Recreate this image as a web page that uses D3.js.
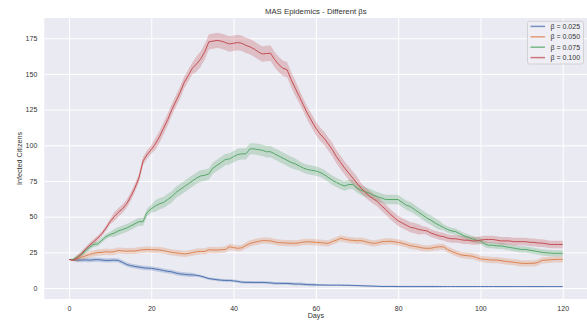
<!DOCTYPE html>
<html>
<head>
<meta charset="utf-8">
<script src="https://cdn.jsdelivr.net/npm/d3@7"></script>
<style>
  html, body { margin: 0; padding: 0; background: #ffffff; }
  svg { display: block; font-family: "Liberation Sans", Arial, sans-serif; }
</style>
</head>
<body>
<svg id="chart" width="587" height="320"></svg>
<script>
// Mean number of infected citizens per day for each infection rate β,
// with the half-width of the confidence band around each mean.
const days = d3.range(0, 121);
const betaLabels = ["β = 0.025", "β = 0.050", "β = 0.075", "β = 0.100"];
const xTicks = [0, 20, 40, 60, 80, 100, 120];
const yTicks = [0, 25, 50, 75, 100, 125, 150, 175];

const infected025 = [
  20,19.7,19.6,19.6,19.7,19.5,19.8,19.9,19.6,19.3,
  19.4,19.5,19.3,18,16.5,15.7,15.1,14.7,14.2,13.9,
  13.8,13.3,12.8,12.2,11.7,11.3,10.5,9.9,9.6,9.3,
  9.2,8.9,8.3,7.5,6.6,6.2,5.8,5.5,5.3,5.3,
  5,4.6,4.1,4,4,3.9,3.9,3.9,3.8,3.6,
  3.3,3.3,3.2,3.2,3,2.8,2.8,2.6,2.4,2.3,
  2.2,2.1,2.1,2,2,2,2,1.9,1.9,1.8,
  1.7,1.6,1.5,1.4,1.3,1.2,1.1,1.1,1.1,1.1,
  1,1,1,1,1,1,1,1,1,1,
  1,1,1,1,1,1,1,1,1,1,
  1,1,1,1,1,1,1,1,1,1,
  1,1,1,1,1,1,1,1,1,1,1
];
const infected050 = [
  20,19.5,20.5,21.5,22.5,23.5,24.3,24.8,25,25.4,
  25.2,25.4,26.3,26,25.8,26,25.9,26.5,26.8,27,
  26.8,26.8,26.6,26.2,25.5,25,24.6,24.3,23.9,24.2,
  24.8,25.4,25.6,25.6,26.8,26.6,26.6,26.8,27,28.9,
  28.3,27.8,28.2,29.8,31.2,32,32.6,33.2,33.2,33,
  32.3,31.8,31.7,31.5,31.4,31.3,31.7,32.2,32.4,32.3,
  32,31.8,31.5,31.3,32.5,33.5,34.8,34.2,33.6,33.4,
  33.1,33.2,32.6,31.8,31.3,31.6,32.4,32.6,32.8,32.4,
  32,31.3,30.5,29.6,29.2,28.6,28,27.8,27.9,28.5,
  28.9,28.9,27,25.6,24.5,23.4,22.9,22.6,22.3,21.4,
  20.4,20.1,19.8,19.6,19.6,19.2,18.7,18.4,18.1,17.7,
  17.3,17.2,17.3,17.3,18,19.4,19.6,19.8,20,20.1,20.1
];
const infected075 = [
  20,20,21.5,23.5,26,28.5,30.5,31,33.5,36,
  37.5,38.5,40,41,42,43.5,45,46.5,46.5,53,
  55.5,57.5,59,60,62,64,67,69,71,73,
  75,77,78.5,79,80,84,86,88,90,90.5,
  92,93.5,94,94,97.5,97.5,97,96.5,95.5,95.5,
  94,92.5,91,89.5,88,87,85.5,84,83,82.5,
  82,81,79.5,77.5,75.5,74,72.5,71.5,72.5,72.5,
  70,68.5,67.5,66.5,65,64,63,62,62,62,
  62,60,58,57,55,53,51,49,47.5,45.5,
  44,42.5,41,40,39.5,38,36.5,35.5,34.5,33.5,
  33,31,30,30,29.5,29.5,29,28.5,28,27.5,
  27,27,26.5,26,25.5,25,24.7,24.5,24.3,24.3,24.3
];
const infected100 = [
  20,19.5,21,24,27,30,32.5,35,38,42,
  46.5,50,53,55.5,59,64,70,77,89,93.5,
  97,101,106,112,118,125,131,137,144,149,
  154,157,160.5,165.5,172.5,173,173.5,173,172,171,
  171.5,172,171.5,170,169,167.5,165.5,164,164.3,164.5,
  160,156.5,154,153,146,140,134,128,122,117,
  112,108,105,101,97,92,88,84,80.5,77,
  73.5,70,67,64.5,62.5,60.5,57.5,55,52,49.5,
  47,45.5,44,42.5,42,41,40.5,40,38.5,37.5,
  36.5,36,35,34.5,34.5,34,33.5,33.5,33,33,
  33.5,34,34,34,33.5,33,33,33,32.5,32.5,
  32.5,32.5,32,32,31.5,31.5,31,30.5,30.5,30.5,30.5
];

const band025 = [
  0,0.6,1.5,1.5,1.5,1.5,1.5,1.5,1.5,1.5,
  1.5,1.5,1.5,1.5,1.5,1.5,1.5,1.5,1.5,1.5,
  1.5,1.5,1.5,1.5,1.5,1.5,1.5,1.5,1.5,1.5,
  1.5,1,1,1,1,1,1,1,1,1,
  1,1,1,1,1,1,1,1,1,1,
  1,1,1,1,1,1,1,1,1,1,
  1,0.5,0.5,0.5,0.5,0.5,0.5,0.5,0.5,0.5,
  0.5,0.5,0.5,0.5,0.5,0.5,0.5,0.5,0.5,0.5,
  0.5,0.5,0.5,0.5,0.5,0.5,0.5,0.5,0.5,0.5,
  0.5,0.3,0.3,0.3,0.3,0.3,0.3,0.3,0.3,0.3,
  0.3,0.3,0.3,0.3,0.3,0.3,0.3,0.3,0.3,0.3,
  0.3,0.3,0.3,0.3,0.3,0.3,0.3,0.3,0.3,0.3,0.3
];
const band050 = [
  0,0.8,2.2,2.2,2.2,2.2,2.2,2.2,2.2,2.2,
  2.2,2.2,2.2,2.2,2.2,2.2,2.2,2.2,2.2,2.2,
  2.2,2.2,2.2,2.2,2.2,2.2,2.2,2.2,2.2,2.2,
  2.2,2.2,2.2,2.2,2.2,2.2,2.2,2.2,2.2,2.2,
  2.2,2.2,2.2,2.2,2.2,2.2,2.2,2.2,2.2,2.2,
  2.2,2.2,2.2,2.2,2.2,2.2,2.2,2.2,2.2,2.2,
  2.2,2.2,2.2,2.2,2.2,2.2,2.2,2.2,2.2,2.2,
  2.2,2.2,2.2,2.2,2.2,2.2,2.2,2.2,2.2,2.2,
  2.2,2.2,2.2,2.2,2.2,2.2,2.2,2.2,2.2,2.2,
  2.2,2.2,2.2,2.2,2.2,2.2,2.2,2.2,2.2,2.2,
  2.2,2.2,2.2,2.2,2.2,2.2,2.2,2.2,2.2,2.2,
  2.2,2.2,2.2,2.2,2.2,2.2,2.2,2.2,2.2,2.2,2.2
];
const band075 = [
  0,0.8,1.8,1.8,1.8,1.8,1.8,1.8,1.8,1.8,
  1.8,2.8,2.8,2.8,2.8,2.8,2.8,2.8,2.8,2.8,
  2.8,4,4,4,4,4,4,4,4,4,
  4,4,4,4,4,4,4,4,4,4,
  4,4,4,4,4,4,4,4,4,4,
  4,4,4,4,4,4,3.3,3.3,3.3,3.3,
  3.3,3.3,3.3,3.3,3.3,3.3,3.3,3.3,3.3,3.3,
  3.3,3.3,3.3,3.3,3.3,3.3,3.3,3.3,3.3,3.3,
  3.3,3.3,3.3,3.3,3.3,3.3,3.3,3.3,3.3,3.3,
  3.3,2.2,2.2,2.2,2.2,2.2,2.2,2.2,2.2,2.2,
  2.2,2.2,2.2,2.2,2.2,2.2,2.2,2.2,2.2,2.2,
  2.2,2.2,2.2,2.2,2.2,2.2,2.2,2.2,2.2,2.2,2.2
];
const band100 = [
  0,0.8,1.8,1.8,1.8,1.8,1.8,1.8,1.8,1.8,
  1.8,3,3,3,3,3,3,3,3,3,
  3,4.2,4.2,4.2,4.2,4.2,4.2,4.2,4.2,4.2,
  4.2,5.4,5.4,5.4,5.4,5.4,5.4,5.4,5.4,5.4,
  5.4,5.4,5.4,5.4,5.4,5.4,5.4,5.4,5.4,5.4,
  5.4,5.4,5.4,5.4,5.4,5.4,4.7,4.7,4.7,4.7,
  4.7,4.7,4.7,4.7,4.7,4.7,4.7,4.7,4.7,4.7,
  4.7,3.6,3.6,3.6,3.6,3.6,3.6,3.6,3.6,3.6,
  3.6,3.6,3.6,3.6,3.6,3.6,2.7,2.7,2.7,2.7,
  2.7,2.7,2.7,2.7,2.7,2.7,2.7,2.7,2.7,2.7,
  2.7,2.7,2.7,2.7,2.7,2.7,2.7,2.7,2.7,2.7,
  2.7,2.7,2.7,2.7,2.7,2.7,2.7,2.7,2.7,2.7,2.7
];

const colors = ["#4c72b0", "#dd8452", "#55a868", "#c44e52"];

const series = [
  { label: betaLabels[0], values: infected025, band: band025, color: colors[0] },
  { label: betaLabels[1], values: infected050, band: band050, color: colors[1] },
  { label: betaLabels[2], values: infected075, band: band075, color: colors[2] },
  { label: betaLabels[3], values: infected100, band: band100, color: colors[3] }
];

const svg = d3.select("#chart");
const plot = { left: 44.3, right: 587.4, top: 18, bottom: 299 };

const x = d3.scaleLinear().domain([-6, 126]).range([plot.left, plot.right]);
const y = d3.scaleLinear().domain([-7.7, 189.2]).range([plot.bottom, plot.top]);

// Axes background
svg.append("rect")
  .attr("x", plot.left).attr("y", plot.top)
  .attr("width", plot.right - plot.left).attr("height", plot.bottom - plot.top)
  .attr("fill", "#eaeaf2");

// Grid lines
const xAxis = d3.axisBottom(x).tickValues(xTicks).tickSize(-(plot.bottom - plot.top)).tickPadding(7);
const yAxis = d3.axisLeft(y).tickValues(yTicks).tickSize(-(plot.right - plot.left)).tickPadding(7);

const gx = svg.append("g").attr("transform", `translate(0,${plot.bottom})`).call(xAxis);
const gy = svg.append("g").attr("transform", `translate(${plot.left},0)`).call(yAxis);
[gx, gy].forEach(g => {
  g.select(".domain").remove();
  g.selectAll(".tick line").attr("stroke", "#ffffff").attr("stroke-width", 1);
  g.selectAll(".tick text").attr("fill", "#333333").attr("font-size", 7)
    .attr("font-family", "'Liberation Sans', Arial, sans-serif");
});

svg.append("clipPath").attr("id", "plot-clip").append("rect")
  .attr("x", plot.left).attr("y", plot.top)
  .attr("width", plot.right - plot.left).attr("height", plot.bottom - plot.top);

const layer = svg.append("g").attr("clip-path", "url(#plot-clip)");

const area = d3.area()
  .x((d, i) => x(days[i]))
  .y0(d => y(d.v - d.h))
  .y1(d => y(d.v + d.h));

const line = d3.line()
  .x((d, i) => x(days[i]))
  .y(d => y(d));

series.forEach(s => {
  const pts = s.values.map((v, i) => ({ v, h: s.band[i] }));
  layer.append("path")
    .attr("d", area(pts))
    .attr("fill", s.color)
    .attr("fill-opacity", 0.27)
    .attr("stroke", "none");
});
series.forEach(s => {
  layer.append("path")
    .attr("d", line(s.values))
    .attr("fill", "none")
    .attr("stroke", s.color)
    .attr("stroke-width", 1);
});

// Title and axis labels
svg.append("text")
  .attr("x", (plot.left + plot.right) / 2).attr("y", 14)
  .attr("text-anchor", "middle")
  .attr("font-size", 7.8).attr("fill", "#333333")
  .text("MAS Epidemics - Different βs");

svg.append("text")
  .attr("transform", `translate(22,${(plot.top + plot.bottom) / 2}) rotate(-90)`)
  .attr("text-anchor", "middle")
  .attr("font-size", 7.2).attr("fill", "#333333")
  .text("Infected Citizens");

svg.append("text")
  .attr("x", (plot.left + plot.right) / 2).attr("y", 317.8)
  .attr("text-anchor", "middle")
  .attr("font-size", 7.2).attr("fill", "#333333")
  .text("Days");

// Legend
const legend = svg.append("g");
legend.append("rect")
  .attr("x", 527.5).attr("y", 21.3).attr("width", 56).attr("height", 42.7)
  .attr("rx", 2)
  .attr("fill", "#eeeef4").attr("fill-opacity", 0.9)
  .attr("stroke", "#cccccc").attr("stroke-width", 0.8);

const legendRows = [26.4, 36.8, 47.2, 57.6];
series.forEach((s, i) => {
  legend.append("line")
    .attr("x1", 530.5).attr("x2", 545)
    .attr("y1", legendRows[i]).attr("y2", legendRows[i])
    .attr("stroke", s.color).attr("stroke-width", 1.5).attr("stroke-opacity", 0.75);
  legend.append("text")
    .attr("x", 550.5).attr("y", legendRows[i])
    .attr("dy", "0.35em")
    .attr("font-size", 7).attr("fill", "#333333")
    .text(s.label);
});
</script>
</body>
</html>
